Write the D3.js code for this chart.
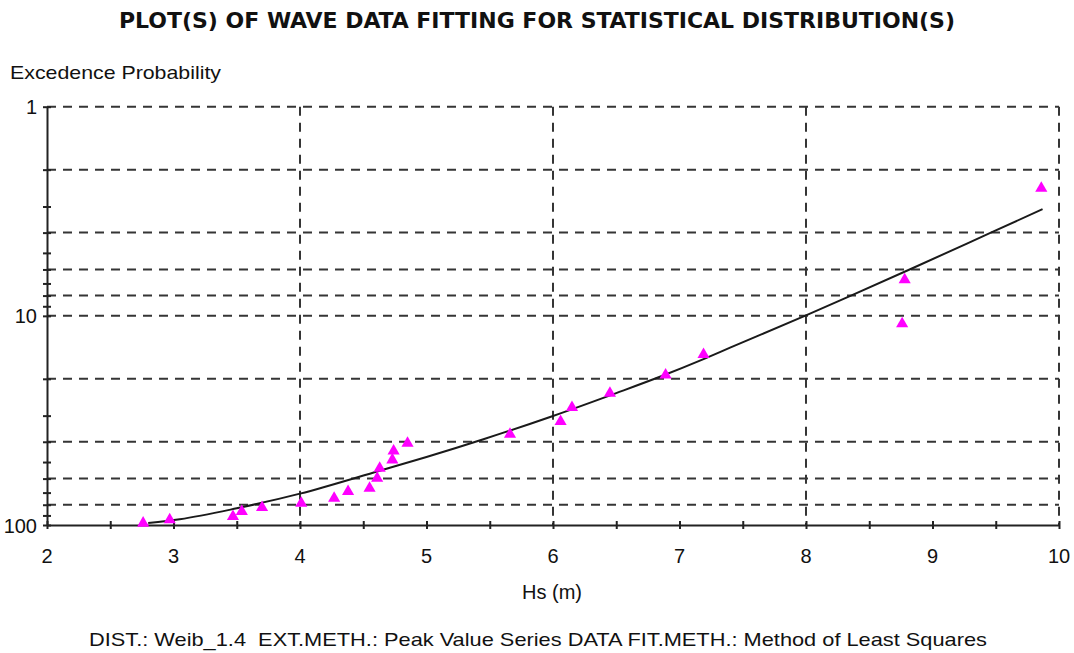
<!DOCTYPE html>
<html>
<head>
<meta charset="utf-8">
<script src="https://d3js.org/d3.v7.min.js"></script>
<style>
    body { margin: 0; background: #fff; }
    svg { display: block; }
    text { fill: #111; white-space: pre; }
</style>
</head>
<body>
<div id="chart"></div>
<script>
// observed peaks (Hs in m, excedence probability)
const hsObs = [2.76, 2.97, 3.47, 3.54, 3.70, 4.01, 4.27, 4.38, 4.55, 4.61, 4.63, 4.73, 4.74, 4.85,
    5.66, 6.06, 6.15, 6.45, 6.89, 7.19, 8.76, 8.78, 9.86];
const probObs = [96.1, 92.6, 89.3, 84.5, 80.9, 77.2, 73.0, 67.8, 65.4, 58.6, 52.5, 47.9, 43.4, 39.9,
    36.1, 31.4, 26.9, 23.0, 18.8, 15.0, 10.7, 6.6, 2.41];

// fitted Weibull curve
const hsFit = [2.80, 3.05, 3.50, 4.00, 4.63, 5.00, 5.45, 6.00, 6.50, 6.85, 7.19, 7.40, 8.00, 8.36, 8.85, 9.47, 9.87];
const probFit = [97.7, 93.8, 83.2, 70.8, 55.0, 47.3, 38.9, 30.1, 23.4, 19.5, 16.1, 14.2, 9.95, 7.98, 5.89, 3.98, 3.09];

const xTicks = [2, 3, 4, 5, 6, 7, 8, 9, 10];
const xMinorTicks = d3.range(2, 10.01, 0.5);
const xGrid = [4, 6, 8, 10];
const yTickLabels = [1, 10, 100];
const yMinorTicks = [1, 2, 3, 4, 5, 6, 7, 8, 9, 10, 20, 30, 40, 50, 60, 70, 80, 90, 100];
const yGrid = [1, 2, 4, 6, 8, 10, 20, 40, 60, 80];

const width = 1074, height = 653;
const plot = { left: 47, right: 1059, top: 106.7, bottom: 525 };

const svg = d3.select("#chart").append("svg")
    .attr("width", width)
    .attr("height", height);

const x = d3.scaleLinear().domain([2, 10]).range([plot.left, plot.right]);
const y = d3.scaleLog().domain([1, 100]).range([plot.top, plot.bottom]);

const gridColor = "#353535";

// dashed grid
svg.append("g").selectAll("line").data(yGrid).enter().append("line")
    .attr("x1", plot.left).attr("x2", plot.right)
    .attr("y1", d => y(d)).attr("y2", d => y(d))
    .attr("stroke", gridColor).attr("stroke-width", 2)
    .attr("stroke-dasharray", "9,7");

svg.append("g").selectAll("line").data(xGrid).enter().append("line")
    .attr("x1", d => x(d)).attr("x2", d => x(d))
    .attr("y1", plot.top).attr("y2", plot.bottom)
    .attr("stroke", gridColor).attr("stroke-width", 2)
    .attr("stroke-dasharray", "9,7");

// axes
const yAxis = d3.axisLeft(y).tickValues(yMinorTicks).tickFormat("").tickSizeInner(4).tickSizeOuter(0);
const gy = svg.append("g").attr("transform", `translate(${plot.left},0)`).call(yAxis);
gy.selectAll(".tick line").attr("x2", 4).attr("x1", -4).attr("stroke", "#222").attr("stroke-width", 2);
gy.select(".domain").attr("stroke", "#222").attr("stroke-width", 2);

const xAxis = d3.axisBottom(x).tickValues(xMinorTicks).tickFormat("").tickSizeOuter(0);
const gx = svg.append("g").attr("transform", `translate(0,${plot.bottom})`).call(xAxis);
gx.selectAll(".tick line").attr("y1", -4).attr("y2", 4).attr("stroke", "#222").attr("stroke-width", 2);
gx.select(".domain").attr("stroke", "#222").attr("stroke-width", 2);

// tick labels
svg.append("g").selectAll("text").data(yTickLabels).enter().append("text")
    .attr("x", 37).attr("y", d => y(d) + 7.5)
    .attr("text-anchor", "end")
    .attr("font-family", "Liberation Sans, Arial, sans-serif")
    .attr("font-size", 20)
    .text(d => d);

svg.append("g").selectAll("text").data(xTicks).enter().append("text")
    .attr("x", d => x(d)).attr("y", 563)
    .attr("text-anchor", "middle")
    .attr("font-family", "Liberation Sans, Arial, sans-serif")
    .attr("font-size", 20)
    .text(d => d);

// fitted curve
const fitData = hsFit.map((h, i) => ({ hs: h, p: probFit[i] }));
svg.append("path")
    .datum(fitData)
    .attr("fill", "none")
    .attr("stroke", "#1a1a1a")
    .attr("stroke-width", 2)
    .attr("d", d3.line().curve(d3.curveMonotoneX).x(d => x(d.hs)).y(d => y(d.p)));

// observed points
const obsData = hsObs.map((h, i) => ({ hs: h, p: probObs[i] }));
svg.append("g").selectAll("path").data(obsData).enter().append("path")
    .attr("d", d3.symbol().type(d3.symbolTriangle).size(64))
    .attr("transform", d => `translate(${x(d.hs)},${y(d.p) + 1.75})`)
    .attr("fill", "#ff00ff");

// titles
svg.append("text")
    .attr("x", 537).attr("y", 28)
    .attr("text-anchor", "middle")
    .attr("font-family", "DejaVu Sans Condensed, DejaVu Sans, sans-serif")
    .attr("font-weight", "bold")
    .attr("font-size", 22)
    .attr("textLength", 836).attr("lengthAdjust", "spacingAndGlyphs")
    .text("PLOT(S) OF WAVE DATA FITTING FOR STATISTICAL DISTRIBUTION(S)");

svg.append("text")
    .attr("x", 10).attr("y", 79)
    .attr("font-family", "Liberation Sans, Arial, sans-serif")
    .attr("font-size", 19)
    .attr("textLength", 211).attr("lengthAdjust", "spacingAndGlyphs")
    .text("Excedence Probability");

svg.append("text")
    .attr("x", 552).attr("y", 599)
    .attr("text-anchor", "middle")
    .attr("font-family", "Liberation Sans, Arial, sans-serif")
    .attr("font-size", 20)
    .text("Hs (m)");

svg.append("text")
    .attr("x", 538).attr("y", 646)
    .attr("text-anchor", "middle")
    .attr("font-family", "Liberation Sans, Arial, sans-serif")
    .attr("font-size", 19)
    .attr("textLength", 898).attr("lengthAdjust", "spacingAndGlyphs")
    .text("DIST.: Weib_1.4  EXT.METH.: Peak Value Series DATA FIT.METH.: Method of Least Squares");
</script>
</body>
</html>
